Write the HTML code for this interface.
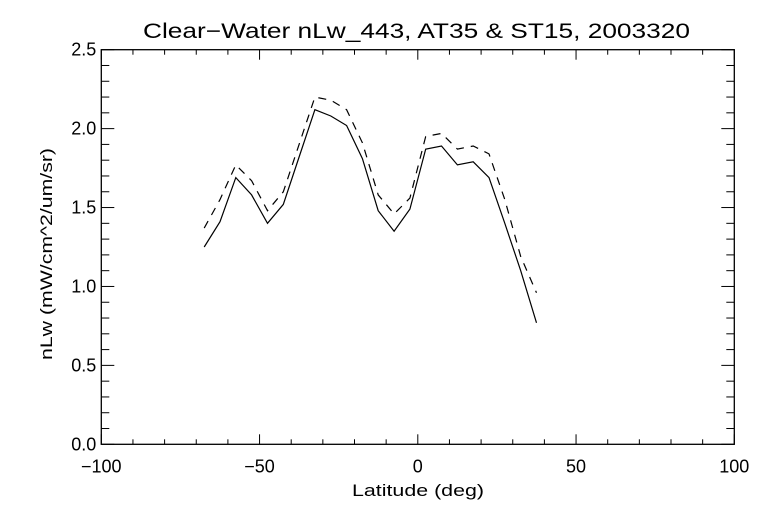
<!DOCTYPE html>
<html><head><meta charset="utf-8"><style>
html,body{margin:0;padding:0;background:#fff;}
svg{display:block;font-family:"Liberation Sans",sans-serif;}
</style></head><body>
<svg id="chart" width="768" height="512" xmlns="http://www.w3.org/2000/svg">
<rect width="768" height="512" fill="#fff"/>
<text x="143" y="38" font-size="21" textLength="547" lengthAdjust="spacingAndGlyphs">Clear−Water nLw_443, AT35 &amp; ST15, 2003320</text>
<text x="352" y="496" font-size="17" textLength="132" lengthAdjust="spacingAndGlyphs">Latitude (deg)</text>
<text transform="translate(52,360) rotate(-90)" font-size="17" textLength="212" lengthAdjust="spacingAndGlyphs">nLw (mW/cm^2/um/sr)</text>
<g id="axes"></g>
<g id="series"></g>
</svg>
<script>
const lat = [-67.5,-62.5,-57.5,-52.5,-47.5,-42.5,-37.5,-32.5,-27.5,-22.5,-17.5,-12.5,-7.5,-2.5,2.5,7.5,12.5,17.5,22.5,27.5,32.5,37.5];
const solidVals = [1.25,1.41,1.69,1.58,1.40,1.52,1.82,2.12,2.08,2.02,1.81,1.48,1.35,1.49,1.87,1.89,1.77,1.79,1.69,1.40,1.10,0.77];
const dashedVals = [1.37,1.55,1.77,1.67,1.48,1.60,1.90,2.20,2.18,2.12,1.91,1.58,1.46,1.56,1.95,1.97,1.87,1.89,1.84,1.55,1.19,0.96];
const xTicks = [-100,-50,0,50,100];
const xTickLabels = ["−100","−50","0","50","100"];
const yTicks = [0,0.5,1.0,1.5,2.0,2.5];
const yTickLabels = ["0.0","0.5","1.0","1.5","2.0","2.5"];

const L=101.3,R=734.3,T=49.7,B=444.3;
const xs=v=>L+(v+100)/200*(R-L);
const ys=v=>B-v/2.5*(B-T);
const NS="http://www.w3.org/2000/svg";
const axes=document.getElementById('axes');
function mk(tag,attrs,parent){const e=document.createElementNS(NS,tag);for(const k in attrs)e.setAttribute(k,attrs[k]);parent.appendChild(e);return e;}
const frame=mk('rect',{x:L,y:T,width:R-L,height:B-T,fill:'none',stroke:'#000','stroke-width':1.3},axes);


for(let v=-100;v<=100;v+=10){
  const major=v%50===0, len=major?10:5, x=xs(v);
  const t1=mk('line',{x1:x,x2:x,y1:B,y2:B-len,stroke:'#000'},axes);
  
  
  const t2=mk('line',{x1:x,x2:x,y1:T,y2:T+len,stroke:'#000'},axes);
  
  
}
xTicks.forEach((v,i)=>{
  const t=mk('text',{x:xs(v),y:B+28,'font-size':18,'text-anchor':'middle'},axes);
  t.textContent=xTickLabels[i];
  
  
});
for(let k=0;k<=25;k++){
  const v=k/10, major=k%5===0, len=major?13:8, y=ys(v);
  const t1=mk('line',{x1:L,x2:L+len,y1:y,y2:y,stroke:'#000'},axes);
  
  
  const t2=mk('line',{x1:R,x2:R-len,y1:y,y2:y,stroke:'#000'},axes);
  
  
}
yTicks.forEach((v,i)=>{
  const t=mk('text',{x:L-5,y:ys(v)+6,'font-size':18,'text-anchor':'end'},axes);
  t.textContent=yTickLabels[i];
  
  
});
const ser=document.getElementById('series');
const pts=vals=>lat.map((x,i)=>xs(x).toFixed(1)+','+ys(vals[i]).toFixed(1)).join(' ');
const s=mk('polyline',{points:pts(solidVals),fill:'none',stroke:'#000','stroke-width':1.2},ser);


const d=mk('polyline',{points:pts(dashedVals),fill:'none',stroke:'#000','stroke-width':1.2,'stroke-dasharray':'8,7'},ser);


</script>
</body></html>
